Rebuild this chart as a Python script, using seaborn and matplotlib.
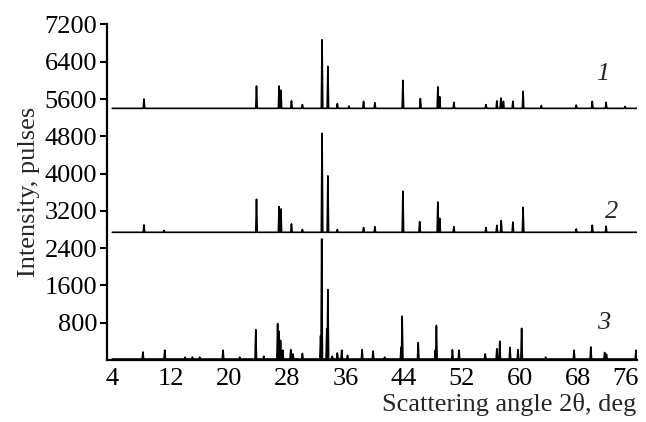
import matplotlib
matplotlib.use('Agg')
import matplotlib.pyplot as plt
import matplotlib.transforms as mtransforms
import numpy as np
import pandas as pd
import seaborn as sns


# peak positions (deg) and heights above baseline (pulses)
pos1 = [8.35, 23.8, 26.9, 27.15, 28.6, 30.1, 32.8, 33.6, 34.9, 36.5, 38.5, 40.05,
        43.9, 46.3, 48.7, 48.95, 50.9, 55.3, 56.8, 57.35, 57.7, 59.0, 60.4, 62.9,
        67.7, 69.9, 71.8, 74.4]
h1 = [200, 480, 480, 390, 160, 80, 1470, 900, 100, 50, 150, 120,
      600, 210, 460, 250, 130, 80, 160, 220, 150, 150, 365, 60,
      70, 150, 130, 40]

pos2 = [8.35, 11.1, 23.8, 26.9, 27.15, 28.6, 30.1, 32.8, 33.6, 34.9, 38.5, 40.05,
        43.9, 46.2, 48.7, 48.95, 50.9, 55.3, 56.8, 57.4, 59.0, 60.4, 67.7, 69.9, 71.8]
h2 = [157, 40, 710, 550, 500, 180, 60, 2125, 1210, 60, 100, 120,
      880, 230, 650, 300, 120, 100, 150, 250, 220, 535, 70, 150, 130]

pos3 = [8.2, 11.2, 14.0, 15.0, 16.0, 19.2, 21.5, 23.7, 24.8, 26.7, 26.85, 27.1,
        27.4, 28.5, 28.8, 30.1, 32.6, 32.75, 33.45, 33.6, 34.2, 34.9, 35.5, 36.3,
        38.3, 39.8, 41.4, 43.65, 43.8, 46.0, 48.35, 48.5, 50.7, 51.6, 55.2, 56.8,
        57.2, 58.6, 59.7, 60.2, 63.5, 67.4, 69.7, 71.6, 71.85, 75.9]
h3 = [150, 190, 40, 40, 40, 190, 40, 630, 60, 760, 600, 400,
      190, 200, 110, 120, 500, 2575, 650, 1490, 60, 130, 190, 80,
      200, 170, 40, 250, 920, 350, 190, 720, 200, 190, 110, 220,
      380, 250, 200, 660, 40, 190, 260, 140, 100, 190]

baselines = [5400, 2740, 20]
trace_names = ['1', '2', '3']
yticks = [800, 1600, 2400, 3200, 4000, 4800, 5600, 6400, 7200]
xticks = [4, 12, 20, 28, 36, 44, 52, 60, 68, 76]

FS = 19


def build_trace(name, base, pos, h, w=0.1):
    xs = [4.0]
    ys = [base]
    for p, hh in sorted(zip(pos, h)):
        xs += [p - w, p, p + w]
        ys += [base, base + hh, base]
    xs.append(76.0)
    ys.append(base)
    return pd.DataFrame({'angle': xs, 'intensity': ys, 'trace': name})


def main():
    sns.set_theme(style="ticks")
    plt.rcParams['font.family'] = ['Liberation Serif', 'DejaVu Serif']

    df = pd.concat([
        build_trace('1', baselines[0], pos1, h1),
        build_trace('2', baselines[1], pos2, h2),
        build_trace('3', baselines[2], pos3, h3),
    ])

    fig = plt.figure(figsize=(6.46, 4.22), dpi=100)
    ax = fig.add_axes([0.1656, 0.147, 0.82, 0.795])
    sns.lineplot(data=df, x='angle', y='intensity', units='trace', estimator=None,
                 sort=False, color='black', lw=1.2, ax=ax)

    ax.set_xlim(3.27, 76.0)
    ax.set_ylim(0, 7200)
    ax.set_xticks(xticks)
    ax.set_yticks(yticks)
    ax.tick_params(axis='x', length=0, pad=6, labelsize=FS, colors='black')
    ax.tick_params(axis='y', length=5, width=1.5, pad=2, labelsize=FS, colors='black')
    for s in ['top', 'right']:
        ax.spines[s].set_visible(False)
    for s in ['left', 'bottom']:
        ax.spines[s].set_linewidth(1.6)
        ax.spines[s].set_color('black')

    # keep the last x label inside the figure
    last = ax.get_xticklabels()[-1]
    last.set_transform(last.get_transform() +
                       mtransforms.ScaledTranslation(-8 / 72, 0, fig.dpi_scale_trans))

    ax.set_xlabel('Scattering angle 2θ, deg', fontsize=FS, loc='right', labelpad=2)
    ax.set_ylabel('Intensity, pulses', fontsize=FS, labelpad=3)

    ax.text(71.35, 6140, trace_names[0], style='italic', fontsize=FS, ha='center', va='center')
    ax.text(72.6, 3180, trace_names[1], style='italic', fontsize=FS, ha='center', va='center')
    ax.text(71.4, 800, trace_names[2], style='italic', fontsize=FS, ha='center', va='center')

    fig.savefig('out.png', dpi=100)


if __name__ == "__main__":
    main()
